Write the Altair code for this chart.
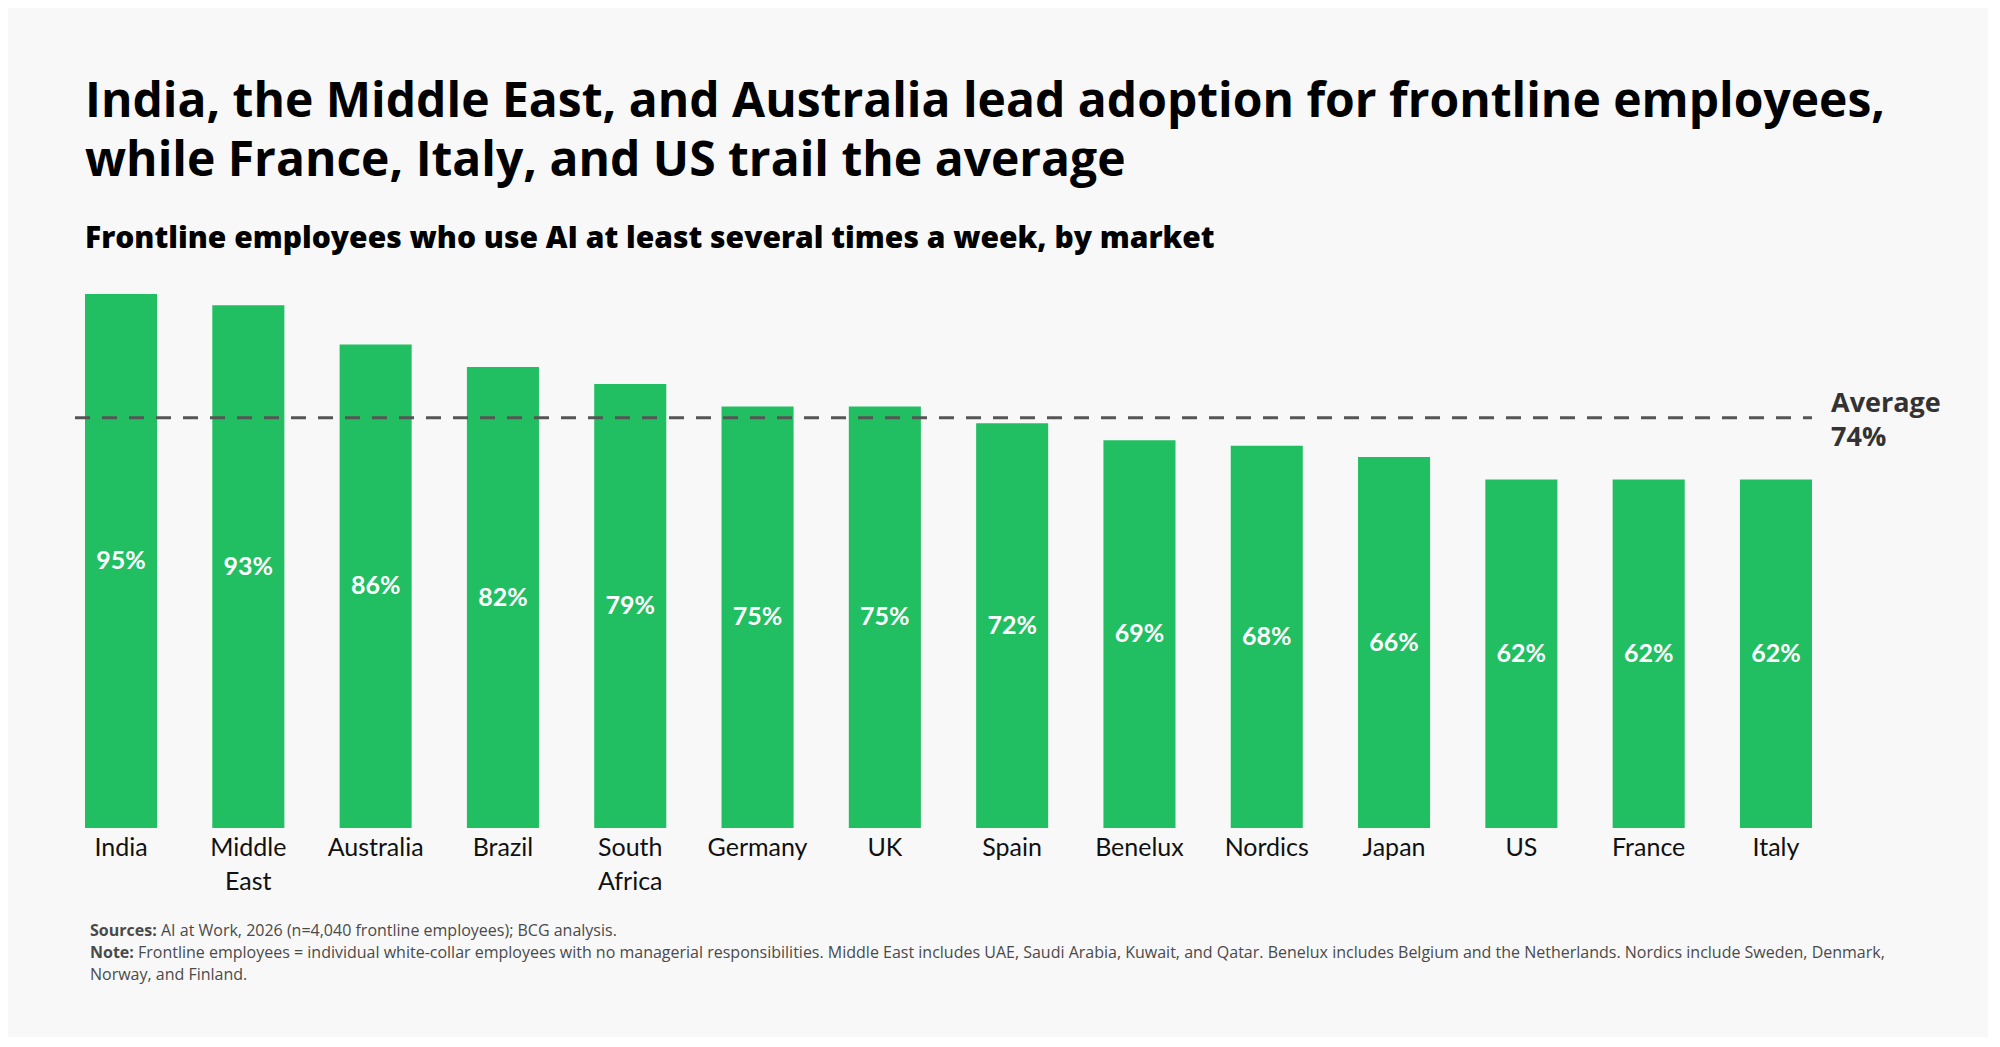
import altair as alt
import pandas as pd

# ---- data ----
markets = ["India", "Middle East", "Australia", "Brazil", "South Africa", "Germany",
           "UK", "Spain", "Benelux", "Nordics", "Japan", "US", "France", "Italy"]
values = [95, 93, 86, 82, 79, 75, 75, 72, 69, 68, 66, 62, 62, 62]
avg_line = [73.0]          # position of the dashed line as drawn
avg_label = ["Average", "74%"]

title_lines = ["India, the Middle East, and Australia lead adoption for frontline employees,",
               "while France, Italy, and US trail the average"]
subtitle = "Frontline employees who use AI at least several times a week, by market"
sources_bold = "Sources:"
sources_text = "AI at Work, 2026 (n=4,040 frontline employees); BCG analysis."
note_bold = "Note:"
note_text_1 = ("Frontline employees = individual white-collar employees with no managerial "
               "responsibilities. Middle East includes UAE, Saudi Arabia, Kuwait, and Qatar. "
               "Benelux includes Belgium and the Netherlands. Nordics include Sweden, Denmark,")
note_text_2 = "Norway, and Finland."

FONT = "Lato"
HEAD = "Open Sans"
GREEN = "#22BF62"
W, H = 1727, 534

df = pd.DataFrame({"market": markets, "value": values})
df["label"] = df["value"].astype(str) + "%"
df["mid"] = df["value"] / 2

x_enc = alt.X("market:N", sort=markets,
              scale=alt.Scale(paddingInner=0.434, paddingOuter=0),
              axis=alt.Axis(title=None, ticks=False, domain=False, grid=False,
                            labelAngle=0, labelFont=FONT, labelFontSize=25,
                            labelColor="#111111", labelPadding=7, labelLineHeight=34,
                            labelExpr="split(datum.label, ' ')"))
y_scale = alt.Scale(domain=[0, 95], nice=False, zero=True)

bars = alt.Chart(df).mark_bar(color=GREEN).encode(
    x=x_enc,
    y=alt.Y("value:Q", scale=y_scale, axis=None),
)

labels = alt.Chart(df).mark_text(color="white", font=FONT, fontWeight="bold",
                                 fontSize=25, baseline="middle").encode(
    x=alt.X("market:N", sort=markets),
    y=alt.Y("mid:Q", scale=y_scale),
    text="label:N",
)

avg_df = pd.DataFrame({"avg": avg_line, "txt": [avg_label]})
rule = alt.Chart(avg_df).mark_rule(color="#555555", strokeWidth=3, strokeDash=[15, 12]).encode(
    y=alt.Y("avg:Q", scale=y_scale),
    x=alt.value(-10),
    x2=alt.value(W),
)
avg_text = alt.Chart(avg_df).mark_text(align="left", baseline="alphabetic", font=HEAD,
                                       fontWeight="bold", fontSize=27, color="#333333",
                                       lineHeight=34, dy=-6).encode(
    y=alt.Y("avg:Q", scale=y_scale),
    x=alt.value(W + 19),
    text="txt",
)


def foot(txt, x, y, bold):
    return alt.Chart(alt.Data(values=[{"t": txt}])).mark_text(
        align="left", baseline="alphabetic", font=HEAD, fontSize=16,
        fontWeight="bold" if bold else "normal", color="#4a4a4a",
    ).encode(x=alt.value(x), y=alt.value(y), text="t:N")


foot_y0 = 936 - 294
feet = [
    foot(sources_bold, 5, foot_y0, True),
    foot(sources_text, 76, foot_y0, False),
    foot(note_bold, 5, foot_y0 + 22, True),
    foot(note_text_1, 53, foot_y0 + 22, False),
    foot(note_text_2, 5, foot_y0 + 44, False),
]

chart = alt.layer(bars, labels, rule, avg_text, *feet).properties(
    width=W,
    height=H,
    title=alt.TitleParams(
        text=title_lines, subtitle=subtitle, anchor="start", frame="group",
        font=HEAD, fontSize=48, fontWeight="bold", color="#000000", lineHeight=59,
        subtitleFont=HEAD, subtitleFontSize=30, subtitleFontWeight=800,
        subtitleColor="#000000", subtitlePadding=38, offset=40,
    ),
    autosize=alt.AutoSizeParams(type="none"),
    padding={"left": 77, "top": 286, "right": 176, "bottom": 209},
).configure(
    background="#F8F8F8",
).configure_view(stroke=None)

chart.save("out.html", embed_options={"renderer": "svg", "actions": False})
